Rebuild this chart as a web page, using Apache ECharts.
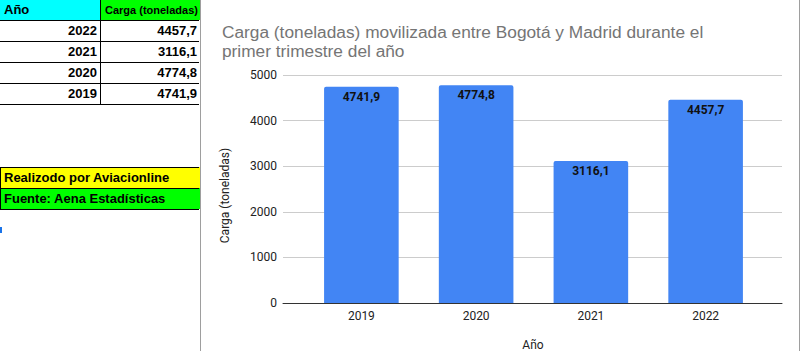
<!DOCTYPE html>
<html><head><meta charset="utf-8">
<script src="https://cdn.jsdelivr.net/npm/echarts@6/dist/echarts.min.js"></script>
<style>
html,body{margin:0;padding:0;width:802px;height:351px;overflow:hidden;background:#fff;}
#chart{position:absolute;left:0;top:0;width:802px;height:351px;}
#sheet{position:absolute;left:0;top:0;width:802px;height:351px;pointer-events:none;}
.cell{position:absolute;box-sizing:border-box;white-space:nowrap;overflow:hidden;font-family:"Liberation Sans",Arial,sans-serif;font-weight:bold;color:#000;}
.ln{position:absolute;}
</style></head><body>
<div id="chart"></div>
<div id="sheet"></div>
<script>
// ---- data ----
const categories = ['2019', '2020', '2021', '2022'];
const cargo = [4741.9, 4774.8, 3116.1, 4457.7];
const yTicks = [0, 1000, 2000, 3000, 4000, 5000];
const tableHeader = ['Año', 'Carga (toneladas)'];
const notes = ['Realizodo por Aviacionline', 'Fuente: Aena Estadísticas'];
const titleText = 'Carga (toneladas) movilizada entre Bogotá y Madrid durante el\nprimer trimestre del año';
const yName = 'Carga (toneladas)';
const xName = 'Año';

const fmt = v => v.toFixed(1).replace('.', ',');

// ---- spreadsheet part (HTML) ----
const sheet = document.getElementById('sheet');
function cell(x, y, w, h, text, opts) {
  const d = document.createElement('div');
  d.className = 'cell';
  d.style.left = x + 'px'; d.style.top = y + 'px';
  d.style.width = w + 'px'; d.style.height = h + 'px';
  d.style.lineHeight = h + 'px';
  d.style.fontSize = (opts.size || 13) + 'px';
  d.style.textAlign = opts.align || 'left';
  d.style.padding = opts.align === 'right' ? '0 3px 0 0' : '0 0 0 4px';
  if (opts.bg) d.style.background = opts.bg;
  d.textContent = text;
  sheet.appendChild(d);
}
function line(x, y, w, h, c) {
  const d = document.createElement('div');
  d.className = 'ln';
  d.style.left = x + 'px'; d.style.top = y + 'px';
  d.style.width = w + 'px'; d.style.height = h + 'px';
  d.style.background = c;
  sheet.appendChild(d);
}
cell(0, 0, 100, 20, tableHeader[0], {bg: '#00ffff', size: 13});
cell(101, 0, 99, 20, tableHeader[1], {bg: '#00ff00', size: 11});
const rowsYears = categories.slice().reverse();
const rowsVals = cargo.slice().reverse();
rowsYears.forEach((yr, i) => {
  const top = 21 + i * 21;
  cell(0, top, 100, 20, yr, {align: 'right'});
  cell(101, top, 99, 20, fmt(rowsVals[i]), {align: 'right'});
});
[20, 41, 62, 83, 104].forEach(y => line(0, y, 199, 1, '#000'));
line(100, 0, 1, 104, '#000');
cell(0, 167, 200, 21, notes[0], {bg: '#ffff00'});
cell(0, 188, 200, 21, notes[1], {bg: '#00ff00'});
[167, 188, 209].forEach(y => line(0, y, 199, 1, '#000'));
line(0, 167, 1, 42, '#000');
line(0, 227, 2, 6, '#1a73e8');
line(200, 0, 1, 351, '#9e9e9e');
line(799, 0, 1, 351, '#9e9e9e');

// ---- chart ----
const chart = echarts.init(document.getElementById('chart'), null, {renderer: 'svg'});
chart.setOption({
  animation: false,
  backgroundColor: '#fff',
  title: {
    text: titleText, left: 217, top: 17,
    textStyle: {fontFamily: 'Liberation Sans', fontSize: 17.3, fontWeight: 'normal', color: '#757575', lineHeight: 19}
  },
  grid: [
    {left: 283, right: 20, top: 75, bottom: 48},
    {left: 304, right: 39, top: 75, bottom: 48}
  ],
  xAxis: [
    {type: 'value', gridIndex: 0, min: 0, max: 1, axisLine: {show: true, lineStyle: {color: '#333'}},
     axisTick: {show: false}, axisLabel: {show: false}, splitLine: {show: false}},
    {type: 'category', gridIndex: 1, data: categories, axisLine: {show: false}, axisTick: {show: false},
     axisLabel: {color: '#222', fontFamily: 'Roboto', fontSize: 12, margin: 7}}
  ],
  yAxis: [
    {type: 'value', gridIndex: 0, min: yTicks[0], max: yTicks[yTicks.length - 1], interval: yTicks[1] - yTicks[0],
     axisLabel: {color: '#222', fontFamily: 'Roboto', fontSize: 12, margin: 6, formatter: v => String(v)},
     splitLine: {lineStyle: {color: '#cccccc'}}, axisLine: {show: false}, axisTick: {show: false}},
    {type: 'value', gridIndex: 1, min: yTicks[0], max: yTicks[yTicks.length - 1], interval: yTicks[1] - yTicks[0], show: false}
  ],
  series: [{
    type: 'bar', xAxisIndex: 1, yAxisIndex: 1, data: cargo, barWidth: '65%',
    itemStyle: {color: '#4285f4', borderRadius: [2, 2, 0, 0]},
    label: {show: true, position: 'insideTop', distance: 4, formatter: p => fmt(p.value),
            fontFamily: 'Roboto', fontWeight: 'bold', fontSize: 12, color: '#111'}
  }],
  graphic: [
    {type: 'text', x: 225, y: 195.5, rotation: Math.PI / 2,
     style: {text: yName, fontFamily: 'Roboto', fontSize: 12, fill: '#222', align: 'center', verticalAlign: 'middle'}},
    {type: 'text', x: 533, y: 345,
     style: {text: xName, fontFamily: 'Roboto', fontSize: 12, fill: '#222', align: 'center', verticalAlign: 'middle'}}
  ]
});
</script>
</body></html>
